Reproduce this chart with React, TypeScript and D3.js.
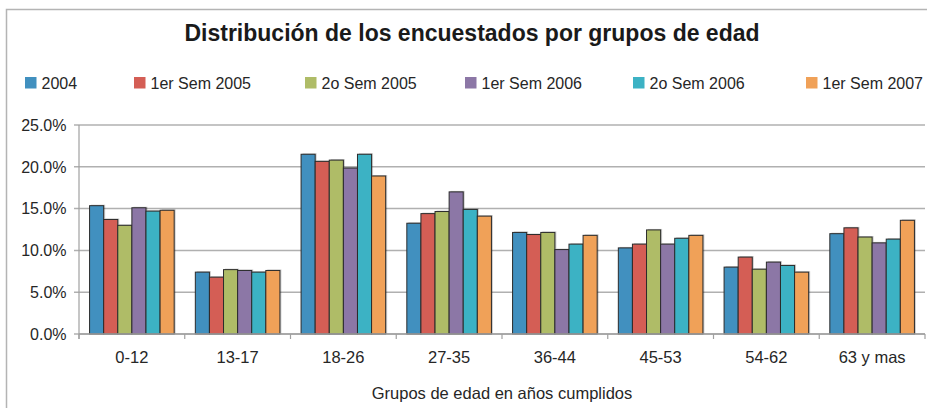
import * as React from "react";
import { scaleBand, scaleLinear, format } from "d3";

const categories = ["0-12", "13-17", "18-26", "27-35", "36-44", "45-53", "54-62", "63 y mas"];
const seriesNames = ["2004", "1er Sem 2005", "2o Sem 2005", "1er Sem 2006", "2o Sem 2006", "1er Sem 2007"];
const seriesColors = ["#4190bf", "#d45e55", "#afbc67", "#8c77a6", "#3cb2c4", "#f0a158"];

// percent values per series, one entry per age group
const s2004 = [15.35, 7.4, 21.5, 13.25, 12.15, 10.3, 8.0, 12.0];
const s1er2005 = [13.7, 6.8, 20.65, 14.4, 11.9, 10.75, 9.2, 12.7];
const s2o2005 = [13.0, 7.7, 20.8, 14.65, 12.15, 12.45, 7.75, 11.6];
const s1er2006 = [15.1, 7.6, 19.85, 17.0, 10.1, 10.75, 8.6, 10.9];
const s2o2006 = [14.7, 7.4, 21.5, 14.9, 10.75, 11.45, 8.2, 11.35];
const s1er2007 = [14.8, 7.6, 18.9, 14.1, 11.8, 11.8, 7.4, 13.6];
const yTicks = [0, 5, 10, 15, 20, 25];

const series = [s2004, s1er2005, s2o2005, s1er2006, s2o2006, s1er2007];

const W = 927;
const H = 408;
const plot = { left: 79, right: 925, top: 125, bottom: 334 };
const font = "'Liberation Sans', Arial, sans-serif";
const legendX = [25, 134, 305, 465, 633, 806];

export default function App() {
  const x = scaleBand<string>().domain(categories).range([plot.left, plot.right]).paddingInner(0).paddingOuter(0);
  const inner = scaleBand<string>()
    .domain(seriesNames)
    .range([0, x.bandwidth()])
    .paddingInner(0)
    .paddingOuter(0.75);
  const y = scaleLinear().domain([0, 25]).range([plot.bottom, plot.top]);
  const fmt = (v: number) => format(".1f")(v) + "%";

  return (
    <svg width={W} height={H} style={{ position: "absolute", left: 0, top: 0, background: "#fff" }} fontFamily={font}>
      <rect x={6.5} y={9.5} width={W} height={H} fill="#fff" stroke="#b4b4b4" strokeWidth={1.5} />
      <text x={472} y={41} textAnchor="middle" fontSize={23} fontWeight="bold" fill="#1a1a1a">
        Distribución de los encuestados por grupos de edad
      </text>

      {seriesNames.map((name, i) => (
        <g key={name} transform={`translate(${legendX[i]},0)`}>
          <rect x={0} y={77} width={11.5} height={11.5} fill={seriesColors[i]} />
          <text x={16.5} y={88.5} fontSize={16} fill="#262626">
            {name}
          </text>
        </g>
      ))}

      {yTicks.map((t) => (
        <g key={t}>
          <line x1={plot.left - 5} x2={plot.right} y1={y(t)} y2={y(t)} stroke="#b0b0b0" strokeWidth={1.5} />
          <text x={66.5} y={y(t) + 5.7} textAnchor="end" fontSize={16} fill="#262626">
            {fmt(t)}
          </text>
        </g>
      ))}
      <line x1={plot.left} x2={plot.left} y1={plot.top} y2={plot.bottom + 5} stroke="#a0a0a0" strokeWidth={1.2} />

      {categories.map((c, ci) => (
        <g key={c} transform={`translate(${x(c)},0)`}>
          {series.map((vals, si) => (
            <rect
              key={si}
              x={inner(seriesNames[si])! + 1.5}
              y={y(vals[ci]) - 1}
              width={inner.bandwidth()}
              height={plot.bottom - y(vals[ci]) + 1}
              fill="#000"
              opacity={0.2}
            />
          ))}
          {series.map((vals, si) => (
            <rect
              key={"b" + si}
              x={inner(seriesNames[si])}
              y={y(vals[ci])}
              width={inner.bandwidth()}
              height={plot.bottom - y(vals[ci])}
              fill={seriesColors[si]}
              stroke="#2b2b2b"
              strokeWidth={1}
            />
          ))}
        </g>
      ))}

      <line x1={plot.left} x2={plot.right} y1={plot.bottom} y2={plot.bottom} stroke="#a0a0a0" strokeWidth={1.5} />
      {[...categories.map((c) => x(c)!), plot.right].map((px, i) => (
        <line key={i} x1={px} x2={px} y1={plot.bottom} y2={plot.bottom + 5} stroke="#a0a0a0" strokeWidth={1.2} />
      ))}
      {categories.map((c) => (
        <text key={c} x={x(c)! + x.bandwidth() / 2} y={362.5} textAnchor="middle" fontSize={16.5} fill="#262626">
          {c}
        </text>
      ))}
      <text x={(plot.left + plot.right) / 2} y={399} textAnchor="middle" fontSize={16.5} fill="#262626">
        Grupos de edad en años cumplidos
      </text>
    </svg>
  );
}
